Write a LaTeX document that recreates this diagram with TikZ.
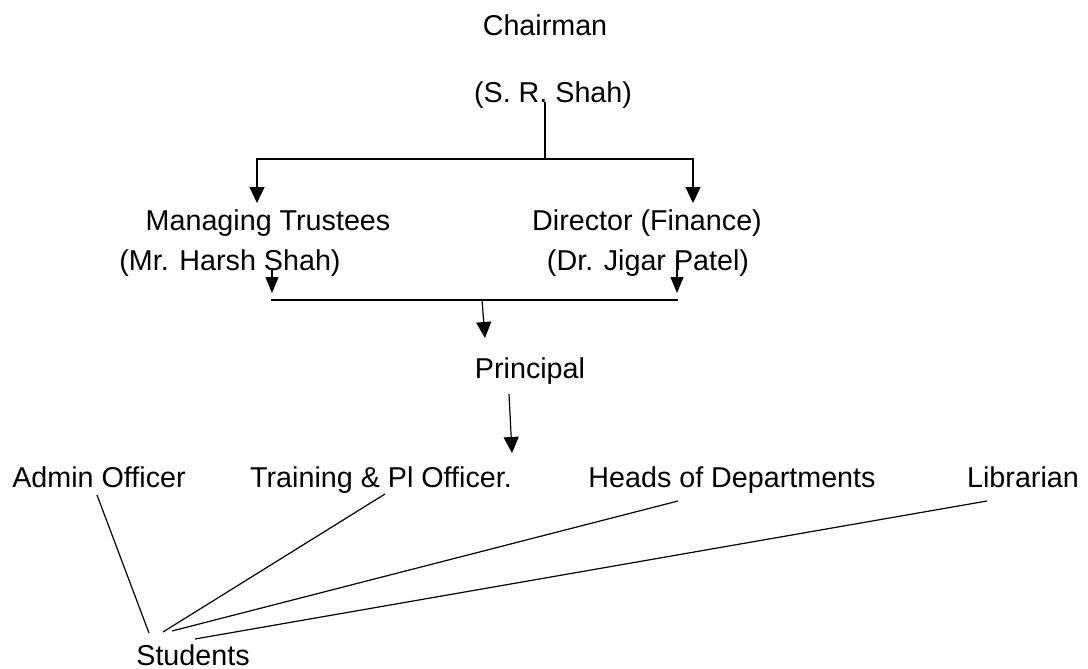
\documentclass[tikz,border=0pt]{standalone}
\usepackage{fontspec}
\setmainfont{Liberation Sans}
\usetikzlibrary{arrows.meta}
\usetikzlibrary{calc}

\tikzset{
  post/.style={anchor=base,inner sep=0pt,font=\fontsize{14.35pt}{17pt}\selectfont},
  arr/.style={-{Triangle[length=8pt,width=7.5pt]}},
  arrboth/.style={{Triangle[length=8pt,width=7.5pt]}-{Triangle[length=8pt,width=7.5pt]}},
  arrs/.style={-{Triangle[length=8pt,width=6.5pt]}}
}

\begin{document}
\begin{tikzpicture}[x=0.5pt,y=-0.5pt,line width=0.6pt]
    \useasboundingbox (0,0) rectangle (1088,669);
    % people
    \node[post] (chair) at (545,35) {Chairman};
    \node[post] (chairname) at (553,102) {(S. R. Shah)};
    \node[post] (trust) at (268,230) {Managing Trustees};
    \node[post] (trustname) at (230,270) {(Mr. Harsh Shah)};
    \node[post] (dir) at (647,230) {Director (Finance)};
    \node[post] (dirname) at (648,270) {(Dr. Jigar Patel)};
    \node[post] (princ) at (530,378) {Principal};
    \node[post] (admin) at (99,487) {Admin Officer};
    \node[post] (tpo) at (381,487) {Training \& Pl Officer.};
    \node[post] (hod) at (732,487) {Heads of Departments};
    \node[post] (lib) at (1023,487) {Librarian};
    \node[post] (stud) at (193,665) {Students};
    % chairman to trustees and director
    \coordinate (split) at (545,159);
    \coordinate (barL) at (257,159);
    \coordinate (barR) at (693,159);
    \draw (split |- chairname.base) -- (split);
    \draw[arrboth] ([shift={(-11,-27)}]trust.base) -- (barL) -- (barR) -- ([shift={(46,-27)}]dir.base);
    % trustees and director to principal
    \coordinate (mergeL) at (271,300);
    \coordinate (mergeR) at (678,300);
    \coordinate (merge) at (482,300);
    \draw[arrs] ([shift={(42,0)}]trustname.base) -- ([shift={(42,23)}]trustname.base);
    \draw[arrs] ([shift={(29,-15)}]dirname.base) -- ([shift={(29,23)}]dirname.base);
    \draw (mergeL) -- (mergeR);
    \draw[arr] (merge) -- ([shift={(-45,-40)}]princ.base);
    \draw[arr] ([shift={(-21,16)}]princ.base) -- ([shift={(-18,75)}]princ.base);
    % staff to students
    \draw ([shift={(-2,8)}]admin.base) -- ([shift={(-44,-32)}]stud.base);
    \draw ([shift={(4,7)}]tpo.base) -- ([shift={(-30,-33)}]stud.base);
    \draw ([shift={(-54,14)}]hod.base) -- ([shift={(-21,-34)}]stud.base);
    \draw ([shift={(-36,14)}]lib.base) -- ([shift={(2,-26)}]stud.base);
\end{tikzpicture}
\end{document}
